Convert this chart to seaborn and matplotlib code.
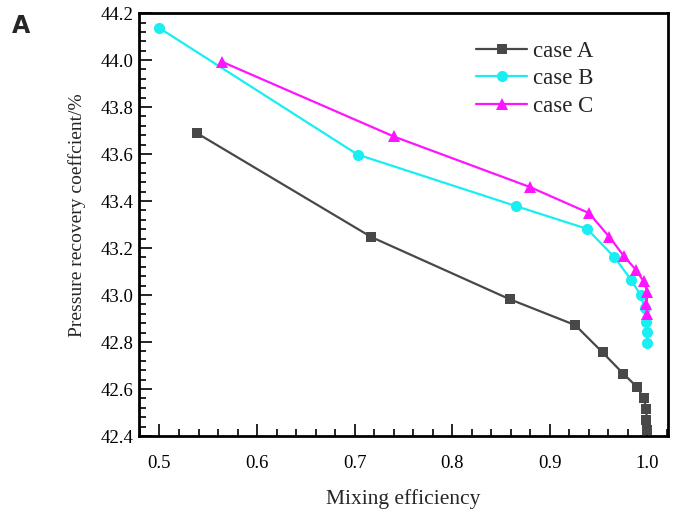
import numpy as np
import pandas as pd
import matplotlib
matplotlib.use("Agg")
import matplotlib.pyplot as plt
import seaborn as sns
from matplotlib.ticker import MultipleLocator, FixedLocator

sns.set_theme(style="white")
plt.rcParams['font.family'] = ['Liberation Serif', 'DejaVu Serif']

case_a_x = [0.538, 0.717, 0.859, 0.926, 0.954, 0.975, 0.989, 0.996, 0.999, 0.999, 1.0]
case_a_y = [43.69, 43.247, 42.982, 42.872, 42.756, 42.666, 42.610, 42.563, 42.514, 42.468, 42.426]
case_b_x = [0.5, 0.703, 0.865, 0.938, 0.966, 0.983, 0.993, 0.997, 0.999, 1.0, 1.0]
case_b_y = [44.136, 43.598, 43.379, 43.282, 43.162, 43.066, 43.0, 42.943, 42.886, 42.841, 42.797]
case_c_x = [0.564, 0.740, 0.880, 0.940, 0.961, 0.976, 0.988, 0.996, 1.0, 0.999, 1.0]
case_c_y = [43.993, 43.675, 43.459, 43.349, 43.247, 43.165, 43.108, 43.059, 43.013, 42.96, 42.921]
labels = ["case A", "case B", "case C"]
x_ticks = [0.5, 0.6, 0.7, 0.8, 0.9, 1.0]
y_ticks = [42.4, 42.6, 42.8, 43.0, 43.2, 43.4, 43.6, 43.8, 44.0, 44.2]

fig = plt.figure(figsize=(6.73, 5.12), dpi=100)
ax = fig.add_axes([0.2065, 0.1484, 0.786, 0.826])

series = [(case_a_x, case_a_y, "#484848", "s", 7.5),
          (case_b_x, case_b_y, "#19eef2", "o", 8),
          (case_c_x, case_c_y, "#ff14ff", "^", 9)]
for (xs, ys, col, mk, ms), lab in zip(series, labels):
    sns.lineplot(x=xs, y=ys, ax=ax, sort=False, estimator=None, color=col, marker=mk,
                 markersize=ms, markeredgewidth=0, linewidth=1.6, label=lab)

ax.set_xlim(0.479, 1.021)
ax.set_ylim(42.4, 44.2)
ax.xaxis.set_major_locator(FixedLocator(x_ticks))
ax.yaxis.set_major_locator(FixedLocator(y_ticks))
ax.xaxis.set_minor_locator(MultipleLocator(0.02))
ax.yaxis.set_minor_locator(MultipleLocator(0.04))
ax.set_xticklabels([f"{v:.1f}" for v in x_ticks])
ax.set_yticklabels([f"{v:.1f}" for v in y_ticks])
ax.tick_params(axis='both', which='major', direction='in', length=9, width=1.2,
               labelsize=13.5, color='black', labelcolor='black')
ax.tick_params(axis='x', which='major', pad=14)
ax.tick_params(axis='y', which='major', pad=4)
ax.tick_params(axis='both', which='minor', direction='in', length=5, width=1.2, color='black')
ax.tick_params(top=False, right=False, bottom=True, left=True, which='both')
for s in ax.spines.values():
    s.set_color('black')
    s.set_linewidth(2)

ax.set_xlabel("Mixing efficiency", fontsize=15.5, labelpad=12)
ax.set_ylabel("Pressure recovery coeffcient/%", fontsize=14)
ax.yaxis.set_label_coords(-0.10, 0.5225)

leg = ax.legend(loc='upper left', bbox_to_anchor=(0.599, 0.984), frameon=False,
                fontsize=16.5, handlelength=2.2, handletextpad=0.25, labelspacing=0.3)

fig.text(0.017, 0.935, "A", fontsize=17, fontweight='bold', family='DejaVu Sans')

fig.savefig("out.png", dpi=100)
